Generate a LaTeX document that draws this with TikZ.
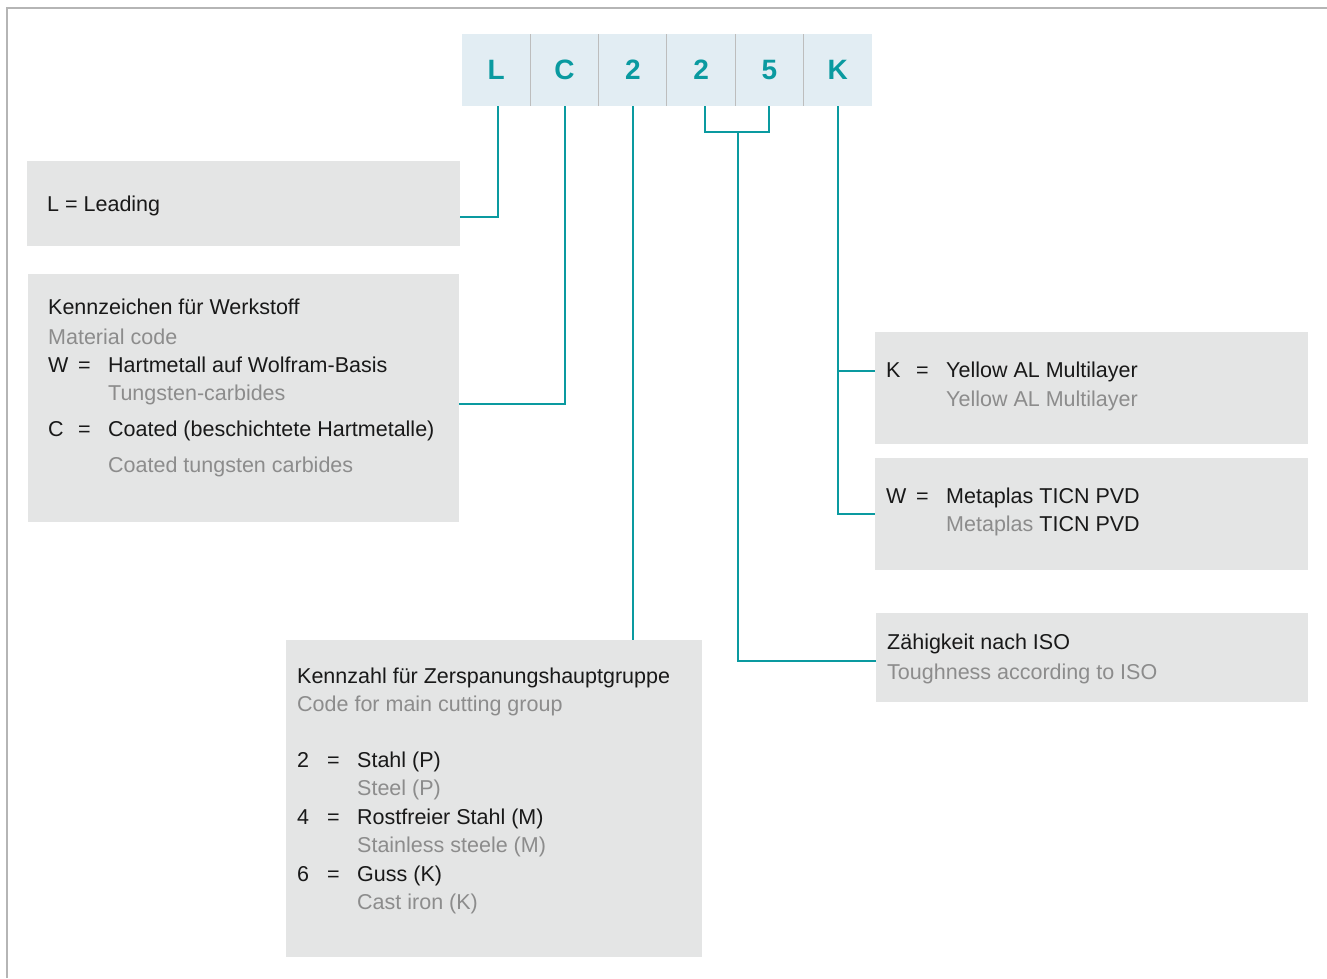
\documentclass[tikz,border=0pt]{standalone}
\usepackage{fontspec}
\setmainfont{Liberation Sans}
\usepackage{tikz}
\usetikzlibrary{shapes,arrows,positioning}
\usepackage{color}

\definecolor{codeteal}{HTML}{0A9AA0}
\definecolor{cellblue}{HTML}{E2EDF3}
\definecolor{boxgrey}{HTML}{E4E5E5}
\definecolor{engrey}{HTML}{8C8C8C}
\definecolor{framegrey}{HTML}{B5B5B5}
\definecolor{sepgrey}{HTML}{BDBDBD}

\newcommand{\coderow}[3]{\makebox[#1][l]{#2}\makebox[#1][l]{=}#3}

\begin{document}
\begin{tikzpicture}[x=1pt, y=-1pt, node distance=0,
	cell/.style={fill=cellblue, minimum width=68.3, minimum height=72, inner sep=0, outer sep=0,
		font=\fontsize{28}{28}\selectfont\bfseries, text=codeteal},
	infobox/.style={fill=boxgrey, anchor=north west, inner sep=0, outer sep=0},
	link/.style={draw=codeteal, line width=2},
	txt/.style={anchor=base west, inner sep=0, text=black!90, font=\fontsize{21.5}{26}\selectfont},
	en/.style={txt, text=engrey}]
	%\draw[help lines, yellow] (0,0)grid[step=100](1327,978);
	\useasboundingbox (0,0) rectangle (1327,978);
	\draw [framegrey, line width=1.5] (7,978) -- (7,8) -- (1327,8);
	% the code in the top bar
	\node [cell] (cL) at (496.2,70) {L};
	\node [cell, right=of cL] (cC) {C};
	\node [cell, right=of cC] (c2a) {2};
	\node [cell, right=of c2a] (c2b) {2};
	\node [cell, right=of c2b] (c5) {5};
	\node [cell, right=of c5] (cK) {K};
	\foreach \c in {cL,cC,c2a,c2b,c5}
		\draw [sepgrey, line width=1] (\c.north east) -- (\c.south east);
	% the explaining boxes
	\node [infobox, minimum width=433, minimum height=85] (lead) at (27,161) {};
	\node [infobox, minimum width=431, minimum height=248] (mat) at (28,274) {};
	\node [infobox, minimum width=416, minimum height=317] (grp) at (286,640) {};
	\node [infobox, minimum width=433, minimum height=112] (coatK) at (875,332) {};
	\node [infobox, minimum width=433, minimum height=112] (coatW) at (875,458) {};
	\node [infobox, minimum width=432, minimum height=89] (tough) at (876,613) {};
	% texts
	\node [txt] (leadtxt) at (47,211) {L = Leading};

	\node [txt] (mat1) at (48,314) {Kennzeichen für Werkstoff};
	\node [en] (mat2) at (48,344) {Material code};
	\node [txt] (mat3) at (48,372) {\coderow{30pt}{W}{Hartmetall auf Wolfram-Basis}};
	\node [en] (mat4) at (108,400) {Tungsten-carbides};
	\node [txt] (mat5) at (48,436) {\coderow{30pt}{C}{Coated (beschichtete Hartmetalle)}};
	\node [en] (mat6) at (108,472) {Coated tungsten carbides};

	\node [txt] (grp1) at (297,683) {Kennzahl für Zerspanungshauptgruppe};
	\node [en] (grp2) at (297,711) {Code for main cutting group};
	\node [txt] (grp3) at (297,767) {\coderow{30pt}{2}{Stahl (P)}};
	\node [en] (grp4) at (357,795) {Steel (P)};
	\node [txt] (grp5) at (297,824) {\coderow{30pt}{4}{Rostfreier Stahl (M)}};
	\node [en] (grp6) at (357,852) {Stainless steele (M)};
	\node [txt] (grp7) at (297,881) {\coderow{30pt}{6}{Guss (K)}};
	\node [en] (grp8) at (357,909) {Cast iron (K)};

	\node [txt] (k1) at (886,377) {\coderow{30pt}{K}{Yellow AL Multilayer}};
	\node [en] (k2) at (946,406) {Yellow AL Multilayer};
	\node [txt] (w1) at (886,503) {\coderow{30pt}{W}{Metaplas TICN PVD}};
	\node [en] (w2) at (946,531) {Metaplas \textcolor{black!90}{TICN PVD}};

	\node [txt] (t1) at (887,649) {Zähigkeit nach ISO};
	\node [en] (t2) at (887,679) {Toughness according to ISO};
	% connectors from the code to the boxes
	\coordinate (brk) at (738,132);
	\coordinate (kin) at ([yshift=17]coatK.west);
	\draw [link] ([xshift=2]cL.south) |- ([yshift=-13.5]lead.east);
	\draw [link] (cC.south) |- ([yshift=-6]mat.east);
	\draw [link] (c2a.south) -- (c2a.south |- grp.north);
	\draw [link] ([xshift=4]c2b.south) |- (brk) -| (c5.south);
	\draw [link] (brk) |- ([yshift=-3.5]tough.west);
	\draw [link] (cK.south) |- (coatW.west);
	\draw [link] (cK.south |- kin) -- (kin);
\end{tikzpicture}
\end{document}
